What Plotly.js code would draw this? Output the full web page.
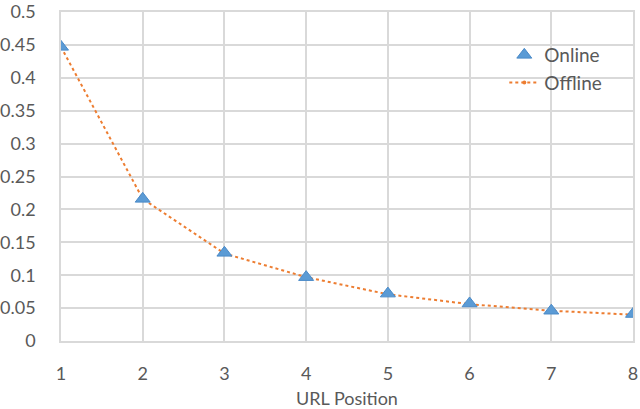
<!DOCTYPE html>
<html>
<head>
<meta charset="utf-8">
<script src="https://cdn.plot.ly/plotly-3.0.1.min.js"></script>
<style>
  body { margin: 0; background: #fff; }
  #chart { width: 640px; height: 409px; }
</style>
</head>
<body>
<div id="chart"></div>
<script>
// URL position vs. value
var positions = [1, 2, 3, 4, 5, 6, 7, 8];
var online = [0.447, 0.216, 0.134, 0.097, 0.072, 0.057, 0.046, 0.041];
var offline = [0.447, 0.216, 0.133, 0.097, 0.071, 0.056, 0.046, 0.040];
var yTicks = [0, 0.05, 0.1, 0.15, 0.2, 0.25, 0.3, 0.35, 0.4, 0.45, 0.5];
var yTickText = ['0', '0.05', '0.1', '0.15', '0.2', '0.25', '0.3', '0.35', '0.4', '0.45', '0.5'];

var trace1 = {
  x: positions,
  y: online,
  name: 'Online',
  legendgroup: 'on',
  type: 'scatter',
  mode: 'markers',
  marker: {
    symbol: 'triangle-up',
    size: 13,
    color: '#5b9bd5',
    line: {color: '#4a8ac8', width: 1}
  }
};

var trace2 = {
  x: positions,
  y: offline,
  name: 'Offline',
  legendgroup: 'off',
  type: 'scatter',
  mode: 'lines+markers',
  line: {color: '#ed7d31', width: 2, dash: 'dot'},
  marker: {symbol: 'circle', size: 4, color: '#ed7d31'}
};

var layout = {
  width: 640,
  height: 409,
  margin: {l: 61, r: 7, t: 12, b: 68},
  paper_bgcolor: '#fff',
  plot_bgcolor: '#fff',
  font: {family: 'Lato, "Noto Sans", sans-serif', size: 18, color: '#595959'},
  showlegend: true,
  legend: {
    x: 0.775, y: 0.927, xanchor: 'left', yanchor: 'top',
    bgcolor: 'rgba(0,0,0,0)',
    traceorder: 'reversed',
    font: {size: 19, color: '#595959'},
    tracegroupgap: 14
  },
  xaxis: {
    range: [1, 8],
    tickvals: positions,
    showgrid: true,
    gridcolor: '#d9d9d9',
    gridwidth: 1.5,
    zeroline: false,
    showline: true,
    mirror: true,
    linecolor: '#d9d9d9',
    linewidth: 1.5,
    ticks: '',
    ticklabelstandoff: 16,
    title: {text: 'URL Position', font: {size: 18, color: '#595959'}, standoff: 21}
  },
  yaxis: {
    range: [0, 0.5],
    tickvals: yTicks,
    ticktext: yTickText,
    showgrid: true,
    gridcolor: '#d9d9d9',
    gridwidth: 1.5,
    zeroline: false,
    showline: true,
    mirror: true,
    linecolor: '#d9d9d9',
    linewidth: 1.5,
    ticks: '',
    ticklabelstandoff: 20,
    ticklabeloverflow: 'allow'
  }
};

Plotly.newPlot('chart', [trace2, trace1], layout, {displayModeBar: false});
</script>
</body>
</html>
